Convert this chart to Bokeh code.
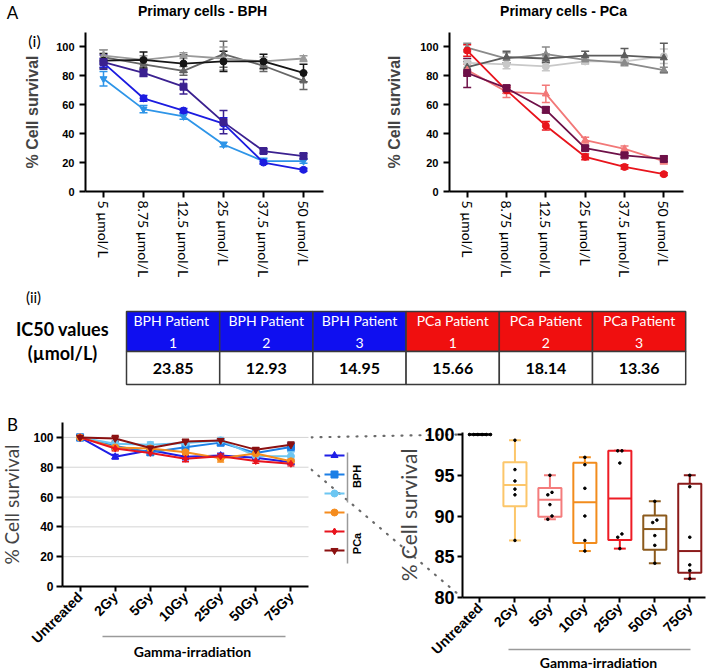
import math
from bokeh.plotting import figure
from bokeh.models import Range1d, FixedTicker, Whisker, TeeHead, ColumnDataSource
from bokeh.layouts import row, column
from bokeh.embed import file_html
from bokeh.resources import INLINE
from bokeh.core.properties import value

# ------------------------------------------------------------------ data
conc_labels = ["5 µmol/L", "8.75 µmol/L", "12.5 µmol/L", "25 µmol/L", "37.5 µmol/L", "50 µmol/L"]

# Panel A(i) - BPH primary cells
bph_ctrl1 = [90.5, 91.0, 88.5, 90.0, 90.0, 82.0]
bph_ctrl1_err = [5, 5.5, 6, 7, 5, 6]
bph_ctrl2 = [93.0, 88.0, 83.5, 95.0, 87.0, 76.5]
bph_ctrl2_err = [5, 4, 3, 9, 4, 6]
bph_ctrl3 = [94.0, 91.0, 94.0, 92.0, 90.0, 92.0]
bph_ctrl3_err = [4, 3, 2, 8, 3, 2]
bph_pat1 = [89.5, 82.0, 72.5, 48.0, 28.0, 24.5]
bph_pat1_err = [5, 2.5, 5, 8, 1.5, 2]
bph_pat2 = [89.0, 64.5, 56.0, 47.0, 20.0, 15.0]
bph_pat2_err = [3, 2, 1.5, 4, 1, 1]
bph_pat3 = [78.0, 57.0, 52.0, 32.5, 21.0, 21.0]
bph_pat3_err = [5, 2.5, 2, 1.5, 2, 1.5]

# Panel A(i) - PCa primary cells
pca_ctrl1 = [86.0, 93.0, 92.0, 94.0, 94.0, 92.5]
pca_ctrl1_err = [4, 4, 3, 3, 5, 10]
pca_ctrl2 = [99.5, 92.0, 95.0, 91.0, 89.0, 84.0]
pca_ctrl2_err = [3, 4, 5, 2, 2, 2]
pca_ctrl3 = [89.0, 88.0, 86.5, 90.0, 90.0, 93.5]
pca_ctrl3_err = [3, 3, 3, 2, 2, 5]
pca_pat1 = [97.5, 70.0, 45.5, 24.0, 17.0, 12.0]
pca_pat1_err = [4, 2, 3, 2, 1.5, 1]
pca_pat2 = [82.0, 71.5, 56.5, 30.0, 25.0, 22.5]
pca_pat2_err = [10, 2, 2, 1.5, 1.5, 2]
pca_pat3 = [84.0, 69.0, 67.5, 35.5, 29.5, 21.0]
pca_pat3_err = [4, 4, 6, 2, 2, 2]

# Panel A(ii) - IC50 table
ic50_patients = ["BPH  Patient\n1", "BPH Patient\n2", "BPH Patient\n3",
                 "PCa Patient\n1", "PCa Patient\n2", "PCa Patient\n3"]
ic50_values = [23.85, 12.93, 14.95, 15.66, 18.14, 13.36]

# Panel B - gamma irradiation
dose_labels = ["Untreated", "2Gy", "5Gy", "10Gy", "25Gy", "50Gy", "75Gy"]
b_bph1 = [100.0, 87.0, 91.4, 87.0, 87.8, 86.4, 83.3]
b_bph1_err = [2, 1.5, 1.5, 2, 1.5, 1.5, 1.5]
b_bph2 = [100.0, 94.3, 90.0, 93.4, 96.5, 89.5, 93.6]
b_bph2_err = [2, 2, 2, 3, 2, 2, 3]
b_bph3 = [100.0, 95.7, 95.0, 96.3, 98.0, 87.6, 87.4]
b_bph3_err = [2, 2, 2, 2, 2, 2, 3]
b_pca1 = [100.0, 93.3, 92.6, 90.0, 86.0, 89.2, 84.0]
b_pca1_err = [1.5, 2, 1.5, 1.5, 2.5, 1.5, 1.5]
b_pca2 = [100.0, 92.6, 89.6, 85.7, 87.4, 84.2, 82.3]
b_pca2_err = [1, 1.5, 1.5, 2, 1.5, 1.5, 1.5]
b_pca3 = [100.0, 99.3, 92.9, 97.2, 98.0, 91.8, 95.0]
b_pca3_err = [1, 2, 1.5, 1.5, 1.5, 1.5, 2]

ARIAL = "Liberation Sans"
CALIBRI = "Lato"


# ------------------------------------------------------------------ geometry helpers
class Geo:
    """canvas (cx, cy, w, h) in page pixels; plot box (l, r, t, b) carrying ranges xr, yr."""

    def __init__(self, cx, cy, w, h, l, r, t, b, xr, yr):
        self.cx, self.cy, self.w, self.h = cx, cy, w, h
        self.l, self.r, self.t, self.b = l, r, t, b
        self.xr, self.yr = xr, yr

    def dx(self, px):
        return self.xr[0] + (px - self.l) / (self.r - self.l) * (self.xr[1] - self.xr[0])

    def dy(self, py):
        return self.yr[0] + (self.b - py) / (self.b - self.t) * (self.yr[1] - self.yr[0])

    def py(self, y):
        return self.b - (y - self.yr[0]) / (self.yr[1] - self.yr[0]) * (self.b - self.t)

    def fig(self, axes=True):
        kw = {} if axes else dict(x_axis_type=None, y_axis_type=None)
        p = figure(width=self.w, height=self.h,
                   x_range=Range1d(self.dx(self.cx), self.dx(self.cx + self.w)),
                   y_range=Range1d(self.dy(self.cy + self.h), self.dy(self.cy)),
                   min_border=0, toolbar_location=None, output_backend="svg", **kw)
        p.outline_line_color = None
        p.background_fill_color = "white"
        p.border_fill_color = "white"
        p.grid.visible = False
        if axes:
            p.yaxis.fixed_location = self.xr[0]
            p.yaxis.bounds = self.yr
            p.xaxis.fixed_location = self.yr[0]
            p.xaxis.bounds = self.xr
        return p


def txt(p, g, px, py, text, font, size, bold=False, angle=0.0,
        align="center", baseline="middle", color="black"):
    p.text(x=[g.dx(px)], y=[g.dy(py)], text=[text], text_font=value(font),
           text_font_size=f"{size}px", text_font_style="bold" if bold else "normal",
           angle=angle, text_align=align, text_baseline=baseline, text_color=color)


def seg(p, g, px0, py0, px1, py1, color, width, dash="solid", cap="butt"):
    p.segment(x0=[g.dx(px0)], y0=[g.dy(py0)], x1=[g.dx(px1)], y1=[g.dy(py1)],
              line_color=color, line_width=width, line_dash=dash, line_cap=cap)


def style_axis(ax, font, size, bold, tick_out=6, standoff=4):
    ax.axis_line_width = 2
    ax.axis_line_color = "black"
    ax.major_tick_line_width = 2
    ax.major_tick_line_color = "black"
    ax.major_tick_out = tick_out
    ax.major_tick_in = 0
    ax.minor_tick_line_color = None
    ax.major_label_text_font = font
    ax.major_label_text_font_size = f"{size}px"
    ax.major_label_text_font_style = "bold" if bold else "normal"
    ax.major_label_text_color = "black"
    ax.major_label_standoff = standoff


def err_series(p, xs, vals, errs, color, marker, size=7, lw=1.8, cap=8):
    src = ColumnDataSource(dict(x=xs, y=vals,
                                lo=[v - e for v, e in zip(vals, errs)],
                                hi=[v + e for v, e in zip(vals, errs)]))
    p.add_layout(Whisker(base="x", upper="hi", lower="lo", source=src,
                         line_color=color, line_width=1.5,
                         upper_head=TeeHead(size=cap, line_color=color, line_width=1.5),
                         lower_head=TeeHead(size=cap, line_color=color, line_width=1.5)))
    p.line("x", "y", source=src, line_color=color, line_width=lw)
    p.scatter("x", "y", source=src, marker=marker, size=size,
              fill_color=color, line_color=color)


# ------------------------------------------------------------------ panel A(i)
def make_a(g, title, title_px, series, label_standoff):
    p = g.fig()
    xs = list(range(len(conc_labels)))
    for vals, errs, color, marker in series:
        err_series(p, xs, vals, errs, color, marker)
    style_axis(p.yaxis[0], ARIAL, 11, True, tick_out=6, standoff=5)
    style_axis(p.xaxis[0], CALIBRI, 14, False, tick_out=6, standoff=3)
    p.yaxis.ticker = FixedTicker(ticks=[0, 20, 40, 60, 80, 100])
    p.xaxis.ticker = FixedTicker(ticks=xs)
    p.xaxis.major_label_overrides = {i: lab for i, lab in enumerate(conc_labels)}
    p.xaxis.major_label_orientation = -math.pi / 2
    p.yaxis.axis_label = "% Cell survival"
    p.yaxis.axis_label_text_font = ARIAL
    p.yaxis.axis_label_text_font_size = "16px"
    p.yaxis.axis_label_text_font_style = "bold"
    p.yaxis.axis_label_standoff = label_standoff
    txt(p, g, title_px[0], title_px[1], title, ARIAL, 14, bold=True)
    return p


gA1 = Geo(0, 0, 355, 285, 85, 323, 32, 191, (-0.45, 5.5), (0, 110))
gA2 = Geo(355, 0, 354, 285, 449, 683, 32, 191, (-0.45, 5.5), (0, 110))

pA1 = make_a(gA1, "Primary cells - BPH", (202, 10), [
    (bph_ctrl2, bph_ctrl2_err, "#666666", "triangle"),
    (bph_ctrl3, bph_ctrl3_err, "#9a9a9a", "triangle"),
    (bph_ctrl1, bph_ctrl1_err, "#151515", "circle"),
    (bph_pat3, bph_pat3_err, "#2e95e8", "inverted_triangle"),
    (bph_pat2, bph_pat2_err, "#1c1ce0", "circle"),
    (bph_pat1, bph_pat1_err, "#3b2190", "square"),
], 12)
txt(pA1, gA1, 12, 12, "A", CALIBRI, 17)
txt(pA1, gA1, 34, 40, "(i)", CALIBRI, 16)

pA2 = make_a(gA2, "Primary cells - PCa", (563, 10), [
    (pca_ctrl3, pca_ctrl3_err, "#c8c8c8", "circle"),
    (pca_ctrl2, pca_ctrl2_err, "#8a8a8a", "triangle"),
    (pca_ctrl1, pca_ctrl1_err, "#5c5c5c", "triangle"),
    (pca_pat3, pca_pat3_err, "#f27878", "triangle"),
    (pca_pat1, pca_pat1_err, "#e8141c", "circle"),
    (pca_pat2, pca_pat2_err, "#6e1048", "square"),
], 14)

# ------------------------------------------------------------------ panel A(ii) table
TBL_LEFT, COL_W = 126.0, 93.2
HDR_TOP, HDR_BOT, VAL_BOT = 311.0, 351.0, 384.0
gT = Geo(0, 285, 709, 110, TBL_LEFT, TBL_LEFT + 6 * COL_W, 285, 395,
         (-0.5, 5.5), (0, 110))
pT = gT.fig(axes=False)

cols = list(range(len(ic50_patients)))
hdr_colors = ["#0f0ff0" if lab.startswith("BPH") else "#f00f0f" for lab in ic50_patients]
hdr_y = gT.dy((HDR_TOP + HDR_BOT) / 2)
val_y = gT.dy((HDR_BOT + VAL_BOT) / 2)
pT.rect(x=cols, y=hdr_y, width=1, height=HDR_BOT - HDR_TOP, fill_color=hdr_colors,
        line_color="#3a3a3a", line_width=1.5)
pT.rect(x=cols, y=val_y, width=1, height=VAL_BOT - HDR_BOT, fill_color="white",
        line_color="#3a3a3a", line_width=1.5)
pT.text(x=cols, y=hdr_y, text=ic50_patients, text_color="white",
        text_font=value(CALIBRI), text_font_size="14px", text_align="center",
        text_baseline="middle", text_line_height=1.3)
pT.text(x=cols, y=val_y, text=[f"{v:.2f}" for v in ic50_values], text_color="black",
        text_font=value(CALIBRI), text_font_size="16px", text_font_style="bold",
        text_align="center", text_baseline="middle")
txt(pT, gT, 33, 296, "(ii)", CALIBRI, 15)
txt(pT, gT, 62, 328, "IC50 values", CALIBRI, 18, bold=True)
txt(pT, gT, 62, 352, "(µmol/L)", CALIBRI, 18, bold=True)

# ------------------------------------------------------------------ panel B left
gBL = Geo(0, 395, 310, 275, 62, 308, 422, 586, (-0.5, 6.5), (0, 110))
pBL = gBL.fig()

grid_ticks = [20, 40, 60, 80, 100]
pBL.segment(x0=[gBL.xr[0]] * len(grid_ticks), y0=grid_ticks,
            x1=[gBL.xr[1]] * len(grid_ticks), y1=grid_ticks,
            line_color="#d4d4d4", line_width=1)

b_series = [
    (b_bph1, b_bph1_err, "#1f1fe6", "triangle"),
    (b_bph2, b_bph2_err, "#1c7fe6", "square"),
    (b_bph3, b_bph3_err, "#6cc6f2", "circle"),
    (b_pca1, b_pca1_err, "#f58c1e", "circle"),
    (b_pca2, b_pca2_err, "#e8141e", "diamond"),
    (b_pca3, b_pca3_err, "#8b1010", "inverted_triangle"),
]
bxs = list(range(len(dose_labels)))
for vals, errs, color, marker in b_series:
    err_series(pBL, bxs, vals, errs, color, marker, size=7, lw=2, cap=7)

style_axis(pBL.yaxis[0], ARIAL, 12, True, tick_out=6, standoff=3)
style_axis(pBL.xaxis[0], ARIAL, 14, True, tick_out=5, standoff=3)
pBL.yaxis.ticker = FixedTicker(ticks=[0, 20, 40, 60, 80, 100])
pBL.xaxis.ticker = FixedTicker(ticks=bxs)
pBL.xaxis.major_label_overrides = {i: lab for i, lab in enumerate(dose_labels)}
pBL.xaxis.major_label_orientation = math.pi / 4
pBL.yaxis.axis_label = "% Cell survival"
pBL.yaxis.axis_label_text_font = CALIBRI
pBL.yaxis.axis_label_text_font_size = "19px"
pBL.yaxis.axis_label_text_font_style = "normal"
pBL.yaxis.axis_label_standoff = 7
txt(pBL, gBL, 12, 424, "B", CALIBRI, 17)
seg(pBL, gBL, 102, 636, 285, 636, "#9a9a9a", 1.5)
txt(pBL, gBL, 192, 651, "Gamma-irradiation", CALIBRI, 14, bold=True)

# ------------------------------------------------------------------ panel B right (box plot)
gBR = Geo(310, 395, 399, 275, 462, 705, 432, 597, (-0.5, 6.45), (80, 100.25))
pBR = gBR.fig()

box_colors = ["#000000", "#fcc66a", "#f47c7c", "#f28c1c", "#ee1c25", "#8c5a1c", "#8b1a1a"]


def prism_q(sv, q):
    n = len(sv)
    pos = q * (n + 1)
    lo = int(math.floor(pos))
    frac = pos - lo
    if lo < 1:
        return sv[0]
    if lo >= n:
        return sv[-1]
    return sv[lo - 1] + frac * (sv[lo] - sv[lo - 1])


def spread(vals, tol=0.45, step=0.12):
    offs = [0.0] * len(vals)
    order = sorted(range(len(vals)), key=lambda i: vals[i])
    clusters = []
    for i in order:
        if clusters and vals[i] - vals[clusters[-1][-1]] < tol:
            clusters[-1].append(i)
        else:
            clusters.append([i])
    for c in clusters:
        k = len(c)
        for j, i in enumerate(c):
            offs[i] = (j - (k - 1) / 2) * step
    return offs


BOX_HALF, CAP_HALF = 0.33, 0.17
q1s, meds, q3s, mins, maxs = [], [], [], [], []
dot_x, dot_y = [], []
for d in bxs:
    vals = [s[0][d] for s in b_series]
    sv = sorted(vals)
    q1s.append(prism_q(sv, 0.25))
    meds.append(prism_q(sv, 0.5))
    q3s.append(prism_q(sv, 0.75))
    mins.append(sv[0])
    maxs.append(sv[-1])
    for v, o in zip(vals, spread(vals)):
        dot_x.append(d + o)
        dot_y.append(v)

bsrc = ColumnDataSource(dict(x=bxs, q1=q1s, med=meds, q3=q3s, mn=mins, mx=maxs,
                             xl=[x - BOX_HALF for x in bxs], xr=[x + BOX_HALF for x in bxs],
                             cl=[x - CAP_HALF for x in bxs], cr=[x + CAP_HALF for x in bxs],
                             color=box_colors))
pBR.segment(x0="x", y0="q3", x1="x", y1="mx", source=bsrc, line_color="color", line_width=2)
pBR.segment(x0="x", y0="q1", x1="x", y1="mn", source=bsrc, line_color="color", line_width=2)
pBR.segment(x0="cl", y0="mx", x1="cr", y1="mx", source=bsrc, line_color="color", line_width=2)
pBR.segment(x0="cl", y0="mn", x1="cr", y1="mn", source=bsrc, line_color="color", line_width=2)
pBR.quad(left="xl", right="xr", top="q3", bottom="q1", source=bsrc,
         fill_color="white", line_color="color", line_width=2)
pBR.segment(x0="xl", y0="med", x1="xr", y1="med", source=bsrc, line_color="color", line_width=2)
pBR.scatter(dot_x, dot_y, marker="circle", size=2.6, fill_color="black", line_color="black")

style_axis(pBR.yaxis[0], ARIAL, 18, True, tick_out=5, standoff=3)
style_axis(pBR.xaxis[0], ARIAL, 14, True, tick_out=5, standoff=3)
pBR.yaxis.ticker = FixedTicker(ticks=[80, 85, 90, 95, 100])
pBR.xaxis.ticker = FixedTicker(ticks=bxs)
pBR.xaxis.major_label_overrides = {i: lab for i, lab in enumerate(dose_labels)}
pBR.xaxis.major_label_orientation = math.pi / 4
pBR.yaxis.axis_label = "% Cell survival"
pBR.yaxis.axis_label_text_font = CALIBRI
pBR.yaxis.axis_label_text_font_size = "21px"
pBR.yaxis.axis_label_text_font_style = "normal"
pBR.yaxis.axis_label_standoff = 0
seg(pBR, gBR, 508, 649, 690, 649, "#9a9a9a", 1.5)
txt(pBR, gBR, 598, 662, "Gamma-irradiation", CALIBRI, 14, bold=True)

# zoom connector (dotted) from left chart to right chart
left_y100, left_y80 = gBL.py(100), gBL.py(80)
right_y100, right_y80 = gBR.py(100), gBR.py(80)
start_px = gBR.cx + 1
t = (start_px - gBL.r) / (gBR.l - gBL.r)
seg(pBR, gBR, start_px, left_y100 + t * (right_y100 - left_y100), gBR.l - 6, right_y100,
    "#6a6a6a", 2.2, dash="1 8", cap="round")
seg(pBR, gBR, start_px, left_y80 + t * (right_y80 - left_y80), gBR.l - 4, right_y80 - 3,
    "#6a6a6a", 2.2, dash="1 8", cap="round")

# legend for panel B (line + marker keys, grouped by BPH / PCa brackets)
LEG_X0, LEG_X1, LEG_Y0, LEG_DY = 324, 344, 455, 19
for i, (vals, errs, color, marker) in enumerate(b_series):
    ly = LEG_Y0 + i * LEG_DY
    seg(pBR, gBR, LEG_X0, ly, LEG_X1, ly, color, 2)
    pBR.scatter(x=[gBR.dx((LEG_X0 + LEG_X1) / 2)], y=[gBR.dy(ly)], marker=marker,
                size=7, fill_color=color, line_color=color)
seg(pBR, gBR, 347, 452, 347, 502, "#9a9a9a", 1.5)
seg(pBR, gBR, 347, 513, 347, 563, "#9a9a9a", 1.5)
txt(pBR, gBR, 356, 476, "BPH", ARIAL, 11, bold=True, angle=math.pi / 2)
txt(pBR, gBR, 356, 543, "PCa", ARIAL, 11, bold=True, angle=math.pi / 2)

# ------------------------------------------------------------------ layout
layout = column(row(pA1, pA2), pT, row(pBL, pBR))
open("out.html", "w").write(file_html(layout, INLINE))
